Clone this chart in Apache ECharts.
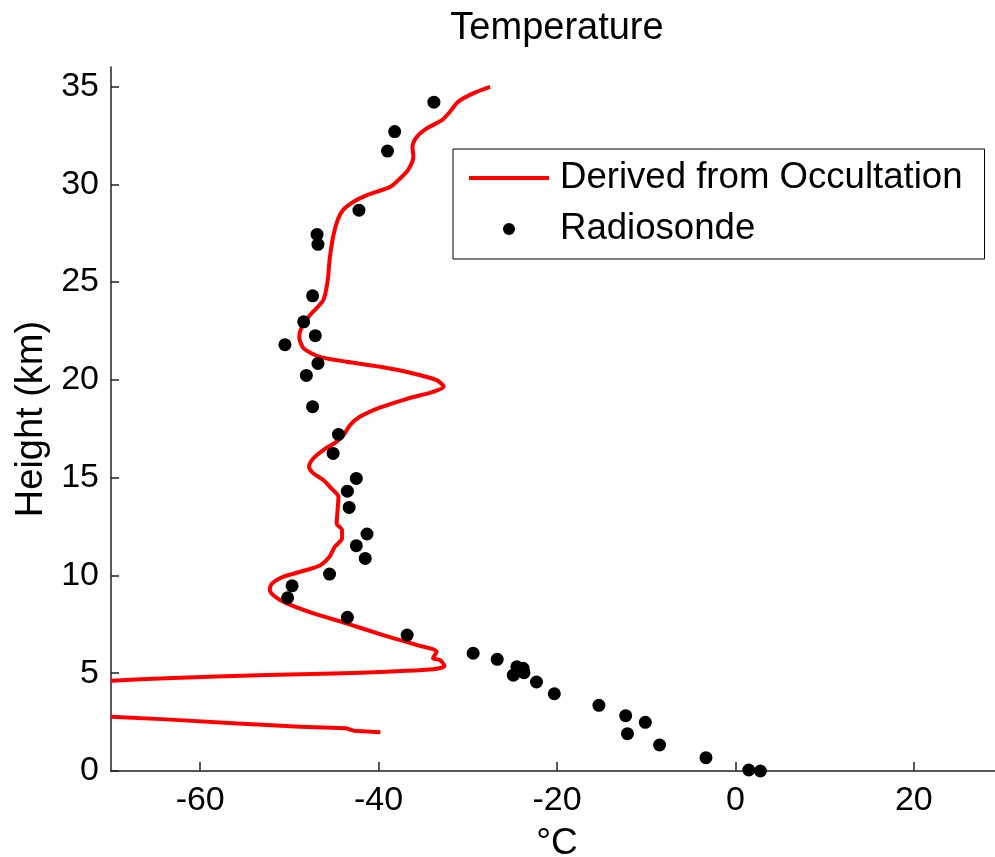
<!DOCTYPE html>
<html>
<head>
<meta charset="utf-8">
<title>Temperature</title>
<script src="https://cdn.jsdelivr.net/npm/echarts@6/dist/echarts.min.js"></script>
<style>
  html, body { margin: 0; padding: 0; background: #fff; }
  #chart { width: 995px; height: 857px; }
</style>
</head>
<body>
<div id="chart"></div>
<script>
// Temperature profile derived from radio occultation: [°C, km]
const occultationUpper = [
  [-27.5, 34.98], [-29.4, 34.65], [-31.1, 34.22], [-32.0, 33.71], [-32.9, 33.28],
  [-34.6, 32.86], [-35.7, 32.43], [-36.2, 31.92], [-36.1, 31.41], [-36.7, 30.73],
  [-37.6, 30.30], [-38.7, 29.87], [-41.3, 29.45], [-42.8, 29.11], [-44.0, 28.68],
  [-44.6, 28.17], [-45.1, 27.32], [-45.5, 26.12], [-45.7, 25.10], [-46.2, 24.08],
  [-47.7, 23.31], [-48.6, 22.71], [-48.9, 22.20], [-48.4, 21.61], [-46.6, 21.18],
  [-43.6, 20.93], [-39.8, 20.67], [-36.1, 20.33], [-33.5, 19.99], [-32.7, 19.65],
  [-33.9, 19.39], [-36.9, 19.02], [-39.8, 18.59], [-42.1, 18.11], [-43.2, 17.69],
  [-43.8, 17.26], [-44.7, 16.84], [-46.2, 16.41], [-47.3, 15.99], [-47.8, 15.56],
  [-47.3, 15.22], [-46.2, 14.88], [-45.3, 14.45], [-44.5, 14.02], [-44.6, 13.34],
  [-44.7, 12.66], [-44.1, 12.32], [-44.1, 11.90], [-44.9, 11.47], [-45.5, 10.96],
  [-46.5, 10.53], [-47.7, 10.33], [-49.7, 10.07], [-51.0, 9.87], [-52.0, 9.56],
  [-52.2, 9.25], [-51.6, 8.91], [-50.3, 8.57], [-47.3, 8.06], [-43.6, 7.55],
  [-39.5, 6.95], [-35.7, 6.44], [-33.5, 6.10], [-33.9, 5.76], [-33.1, 5.67],
  [-32.6, 5.37], [-33.9, 5.20], [-38.0, 5.10], [-39.1, 5.08], [-45.0, 4.98],
  [-52.5, 4.91], [-63.8, 4.74], [-70.0, 4.62]
];
const occultationLower = [
  [-70.0, 2.78], [-63.8, 2.64], [-56.3, 2.44], [-48.8, 2.26], [-43.6, 2.18],
  [-42.8, 2.06], [-39.8, 1.98]
];

// Radiosonde soundings: [°C, km]
const radiosonde = [
  [-33.8, 34.2], [-38.2, 32.7], [-39.0, 31.7], [-42.2, 28.68], [-46.9, 27.44],
  [-46.8, 26.93], [-47.4, 24.3], [-48.4, 22.97], [-47.1, 22.26], [-50.5, 21.8],
  [-46.8, 20.84], [-48.1, 20.23], [-47.4, 18.63], [-44.5, 17.21], [-45.1, 16.24],
  [-42.5, 14.96], [-43.5, 14.31], [-43.3, 13.48], [-41.3, 12.12], [-42.5, 11.52],
  [-41.5, 10.87], [-45.5, 10.07], [-49.7, 9.47], [-50.2, 8.86], [-43.5, 7.86],
  [-36.8, 6.95], [-29.4, 6.02], [-26.7, 5.71], [-24.5, 5.33], [-23.8, 5.25],
  [-24.9, 4.90], [-23.7, 5.03], [-22.3, 4.55], [-20.3, 3.95], [-15.3, 3.36],
  [-12.3, 2.83], [-10.1, 2.49], [-12.1, 1.91], [-8.5, 1.33], [-3.3, 0.68],
  [1.5, 0.05], [2.8, 0.0]
];

const xTicks = [-60, -40, -20, 0, 20];
const yTicks = [0, 5, 10, 15, 20, 25, 30, 35];

const FONT = "'Liberation Sans', Arial, Helvetica, sans-serif";
const lineName = 'Derived from Occultation';
const dotName = 'Radiosonde';

const chart = echarts.init(document.getElementById('chart'), null, { renderer: 'canvas' });

chart.setOption({
  animation: false,
  backgroundColor: '#ffffff',
  title: {
    text: 'Temperature',
    left: 557,
    textAlign: 'center',
    top: 10,
    padding: 0,
    textStyle: { fontFamily: FONT, fontSize: 38, fontWeight: 'normal', color: '#000' }
  },
  legend: {
    orient: 'vertical',
    left: 453,
    top: 149,
    padding: [9, 22, 10, 16],
    itemGap: 11,
    itemWidth: 80,
    itemHeight: 12,
    borderColor: '#000',
    borderWidth: 1,
    borderRadius: 0,
    backgroundColor: '#fff',
    textStyle: { fontFamily: FONT, fontSize: 36.6, color: '#000', lineHeight: 40, padding: [0, 0, 0, 6] },
    data: [
      { name: lineName, icon: 'path://M0 0H80V4H0Z', itemStyle: { color: '#ff0000' } },
      { name: dotName, icon: 'circle', itemStyle: { color: '#000', opacity: 1 } }
    ]
  },
  grid: { left: 111, top: 67, width: 892, height: 704, containLabel: false, outerBoundsMode: 'none' },
  xAxis: {
    type: 'value',
    min: -70,
    max: 30,
    name: '°C',
    nameLocation: 'middle',
    nameGap: 54,
    nameTextStyle: { fontFamily: FONT, fontSize: 37, color: '#000' },
    axisLine: { show: true, onZero: false, lineStyle: { color: '#222', width: 1.5 } },
    axisTick: { show: true, inside: true, length: 9, customValues: xTicks, lineStyle: { color: '#222', width: 1.5 } },
    axisLabel: { customValues: xTicks, margin: 13, fontFamily: FONT, fontSize: 34, color: '#000' },
    splitLine: { show: false }
  },
  yAxis: {
    type: 'value',
    min: 0,
    max: 36,
    name: 'Height (km)',
    nameLocation: 'middle',
    nameGap: 58,
    nameRotate: 90,
    nameTextStyle: { fontFamily: FONT, fontSize: 38, color: '#000' },
    axisLine: { show: true, onZero: false, lineStyle: { color: '#222', width: 1.5 } },
    axisTick: { show: true, inside: true, length: 8, customValues: yTicks, lineStyle: { color: '#222', width: 1.5 } },
    axisLabel: { customValues: yTicks, margin: 12, fontFamily: FONT, fontSize: 34, color: '#000' },
    splitLine: { show: false }
  },
  series: [
    {
      name: lineName,
      type: 'line',
      data: occultationUpper,
      symbol: 'none',
      smooth: 0.25,
      lineStyle: { color: '#ff0000', width: 4, join: 'round' },
      itemStyle: { color: '#ff0000' },
      z: 2
    },
    {
      name: lineName,
      type: 'line',
      data: occultationLower,
      symbol: 'none',
      lineStyle: { color: '#ff0000', width: 4, join: 'round' },
      itemStyle: { color: '#ff0000' },
      z: 2
    },
    {
      name: dotName,
      type: 'scatter',
      data: radiosonde,
      symbol: 'circle',
      symbolSize: 13,
      itemStyle: { color: '#000', opacity: 1 },
      z: 3
    }
  ]
});
</script>
</body>
</html>
